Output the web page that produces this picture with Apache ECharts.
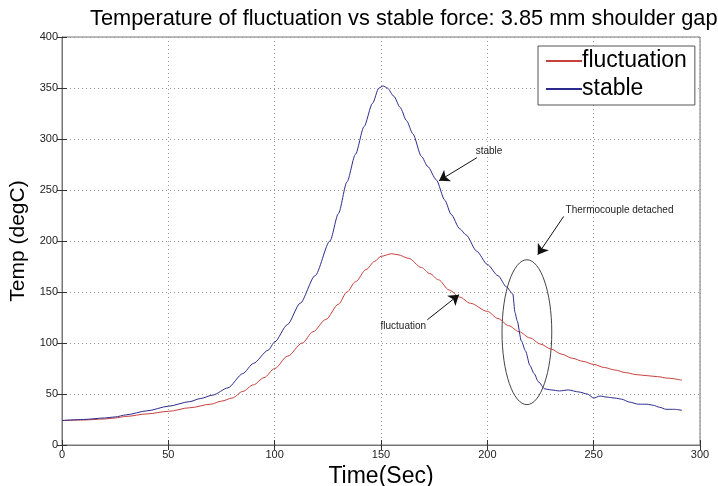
<!DOCTYPE html>
<html>
<head>
<meta charset="utf-8">
<script src="https://cdn.jsdelivr.net/npm/echarts@6/dist/echarts.min.js"></script>
<style>
  html, body { margin: 0; padding: 0; background: #fff; }
  #main { width: 718px; height: 486px; }
</style>
</head>
<body>
<div id="main"></div>
<script>
// stable run (blue), time in sec / temp in degC
var stableTime = [0, 10, 20, 25, 30, 40, 50, 60, 65, 71, 78, 85, 90, 97, 100, 106, 112, 119, 126, 130, 134, 138, 142, 146, 149, 151, 153, 156, 159, 162, 165, 169, 172, 176, 180, 183, 187, 190, 195, 200, 205, 209, 212, 213, 214, 216, 218, 220, 222, 224, 227, 230, 234, 238, 243, 247, 250, 253, 256, 260, 263, 267, 271, 275, 278, 281, 284, 288, 291.5];
var stableTemp = [24, 25, 26.5, 27.5, 29.5, 33.5, 38, 42.5, 45.5, 49, 56, 70, 80, 93, 101, 118, 139, 166, 200, 227, 258, 285, 312, 335, 350, 352, 350, 342, 331, 318, 305, 283, 273, 260, 240, 226, 212, 206, 190, 177, 166, 155, 148, 130, 122, 102, 92, 78, 70, 62, 55, 54, 53, 54, 52, 50, 46, 48, 47, 46, 45, 42, 40, 40, 39, 37, 35, 35, 34];

// fluctuation run (red)
var fluctTime = [0, 10, 20, 25, 30, 40, 50, 60, 70, 75, 80, 85, 90, 95, 100, 106, 113, 118, 124, 130, 134, 138, 143, 147, 150, 155, 158, 163, 169, 173, 177, 182, 187, 192, 200, 205, 210, 215, 220, 225, 230, 235, 240, 245, 250, 255, 260, 265, 270, 275, 280, 285, 291.5];
var fluctTemp = [24, 24.5, 25.5, 26.5, 28, 30.5, 33, 36.5, 40, 43, 46, 52.5, 59, 66, 75, 87, 100, 111, 123, 138, 150, 160, 172, 180, 185, 187.5, 186.5, 183, 174, 168, 162, 152, 145, 139, 131, 124, 117, 111, 105, 99, 94, 89, 85, 82, 79, 76, 73.5, 71, 69, 68, 67, 65.5, 63.5];

var xTicks = [0, 50, 100, 150, 200, 250, 300];
var yTicks = [0, 50, 100, 150, 200, 250, 300, 350, 400];

function pairs(ts, vs) {
  var out = [];
  for (var i = 0; i < ts.length; i++) out.push([ts[i], vs[i]]);
  return out;
}

var font = 'Liberation Sans, Arial, sans-serif';
var narrow = 'Liberation Sans Narrow, Liberation Sans, sans-serif';
var gridLine = { show: true, lineStyle: { color: '#999', type: [1, 3], width: 1 } };
var red = '#c8403c';
var blue = '#2b2b8e';

var chart = echarts.init(document.getElementById('main'));
var option = {
  animation: false,
  backgroundColor: '#fff',
  title: {
    text: 'Temperature of fluctuation vs stable force: 3.85 mm shoulder gap',
    left: 85,
    top: 3,
    textStyle: { fontFamily: font, fontSize: 21.8, fontWeight: 'normal', color: '#000' }
  },
  grid: { left: 62, right: 18, top: 37, bottom: 41, show: true, borderColor: '#777', borderWidth: 1, outerBoundsMode: 'none', containLabel: false },
  legend: {
    orient: 'vertical',
    left: 538,
    top: 46,
    padding: [2, 8, 3, 8],
    itemGap: 2,
    itemWidth: 36,
    itemHeight: 2,
    icon: 'rect',
    borderColor: '#555',
    borderWidth: 1,
    backgroundColor: '#fff',
    textStyle: { fontFamily: font, fontSize: 23, color: '#000', padding: [0, 0, 0, -5], lineHeight: 26 },
    data: [
      { name: 'fluctuation', itemStyle: { color: red } },
      { name: 'stable', itemStyle: { color: blue } }
    ]
  },
  xAxis: [{
    type: 'value',
    min: 0, max: 300, interval: 50,
    name: 'Time(Sec)',
    nameLocation: 'middle',
    nameGap: 8,
    nameTextStyle: { fontFamily: narrow, fontSize: 23, color: '#000' },
    axisLine: { lineStyle: { color: '#777' } },
    axisTick: { inside: true, length: 5, lineStyle: { color: '#333' } },
    axisLabel: { fontFamily: narrow, fontSize: 11, color: '#222', margin: 4 },
    splitLine: gridLine
  }, {
    type: 'value', position: 'top',
    min: 0, max: 300, interval: 50,
    axisLine: { lineStyle: { color: '#777' } },
    axisTick: { inside: true, length: 5, lineStyle: { color: '#333' } },
    axisLabel: { show: false },
    splitLine: { show: false }
  }],
  yAxis: [{
    type: 'value',
    min: 0, max: 400, interval: 50,
    name: 'Temp (degC)',
    nameLocation: 'middle',
    nameGap: 29,
    nameTextStyle: { fontFamily: font, fontSize: 21, color: '#000' },
    axisLine: { show: true, lineStyle: { color: '#777' } },
    axisTick: { show: true, inside: true, length: 5, lineStyle: { color: '#333' } },
    axisLabel: { fontFamily: narrow, fontSize: 11, color: '#222', margin: 4 },
    splitLine: gridLine
  }, {
    type: 'value', position: 'right',
    min: 0, max: 400, interval: 50,
    axisLine: { show: true, lineStyle: { color: '#777' } },
    axisTick: { show: true, inside: true, length: 5, lineStyle: { color: '#333' } },
    axisLabel: { show: false },
    splitLine: { show: false }
  }],
  series: [{
    name: 'fluctuation',
    type: 'line',
    symbol: 'none',
    smooth: 0.3,
    smoothMonotone: 'x',
    data: pairs(fluctTime, fluctTemp),
    lineStyle: { color: red, width: 1 },
    itemStyle: { color: red },
    markLine: {
      silent: true,
      symbol: ['none', 'arrow'],
      symbolSize: 10,
      label: { show: false },
      lineStyle: { color: '#111', type: 'solid', width: 1 },
      data: [
        [{ coord: [171.8, 122.8] }, { coord: [186.7, 147.4] }],
        [{ coord: [235.9, 224.1] }, { coord: [223.7, 186.6] }]
      ]
    }
  }, {
    name: 'stable',
    type: 'line',
    symbol: 'none',
    smooth: 0.25,
    smoothMonotone: 'x',
    data: pairs(stableTime, stableTemp),
    lineStyle: { color: blue, width: 1 },
    itemStyle: { color: blue },
    markLine: {
      silent: true,
      symbol: ['none', 'arrow'],
      symbolSize: 10,
      label: { show: false },
      lineStyle: { color: '#111', type: 'solid', width: 1 },
      data: [
        [{ coord: [195.1, 281.7] }, { coord: [177.3, 259.1] }]
      ]
    }
  }]
};
chart.setOption(option);

// text notes and the ellipse, placed in data coordinates
var notes = [
  { text: 'stable', at: [194.5, 287.8], align: 'left' },
  { text: 'fluctuation', at: [171.2, 116.3], align: 'right' },
  { text: 'Thermocouple detached', at: [236.8, 229.7], align: 'left' }
];
var elems = notes.map(function (n) {
  var p = chart.convertToPixel({ gridIndex: 0 }, n.at);
  return {
    type: 'text', x: p[0], y: p[1], silent: true,
    style: { text: n.text, fill: '#222', font: '10px ' + font, textAlign: n.align, textVerticalAlign: 'middle' }
  };
});
var c = chart.convertToPixel({ gridIndex: 0 }, [218.6, 110.6]);
var e = chart.convertToPixel({ gridIndex: 0 }, [218.6 + 11.7, 110.6 + 71]);
elems.push({
  type: 'ellipse', silent: true,
  shape: { cx: c[0], cy: c[1], rx: e[0] - c[0], ry: c[1] - e[1] },
  style: { fill: 'none', stroke: '#444', lineWidth: 1 }
});
chart.setOption({ graphic: elems });
</script>
</body>
</html>
